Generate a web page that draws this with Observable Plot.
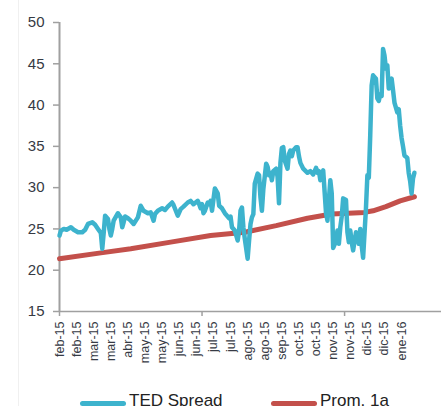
<!DOCTYPE html>
<html>
<head>
<meta charset="utf-8">
<script src="https://cdn.jsdelivr.net/npm/d3@7"></script>
<script src="https://cdn.jsdelivr.net/npm/@observablehq/plot@0.6"></script>
<style>
  html, body { margin: 0; padding: 0; background: #fff; }
  #wrap { position: relative; width: 448px; height: 406px; overflow: hidden; font-family: "Liberation Sans", Arial, sans-serif; }
  #edge { position: absolute; left: 18px; top: 0; width: 1px; height: 406px; background: #f0f0f0; }
  #legend { position: absolute; left: 0; top: 385px; width: 448px; height: 30px; }
  .item { position: absolute; top: 6px; font-size: 17px; color: #222; white-space: nowrap; }
  .sw { position: absolute; top: 16px; height: 5px; border-radius: 3px; }
</style>
</head>
<body>
<div id="wrap">
  <div id="edge"></div>
  <div id="chart"></div>
  <div id="legend"></div>
</div>
<script>
// Business-day index (0 = early Feb 2015) and TED Spread values (bp)
const tedDay = [0,1,3,5,8,10,13,16,18,20,23,25,27,29,30,31,32,34,35,36,37,38,39,41,43,44,45,46,48,50,52,55,57,59,62,64,66,67,69,72,74,76,79,80,83,85,87,90,92,94,97,98,99,100,101,102,104,105,106,107,109,111,112,114,116,119,120,121,123,125,126,127,128,129,130,132,133,134,135,136,137,139,140,141,142,143,145,146,147,148,149,150,152,153,154,155,156,157,158,160,161,162,163,164,166,167,168,169,171,174,176,178,180,181,182,183,185,186,187,188,189,190,191,192,194,195,196,197,198,199,201,202,203,204,205,206,208,209,210,211,212,213,215,216,217,218,219,220,222,223,224,225,226,227,228,229,230,231,233,234,235,237,238,239,240,241,242,244,245,246,247,248,249];
const tedVal = [24.2,24.8,25.0,24.9,25.2,24.9,24.6,24.6,24.9,25.6,25.8,25.5,25.0,24.5,22.6,24.5,26.6,26.2,25.0,24.2,25.0,26.0,26.3,26.9,26.4,25.2,25.8,26.5,26.3,26.0,25.6,26.4,27.8,27.2,26.9,27.0,26.0,26.8,27.2,27.5,27.3,27.7,28.2,27.9,26.6,27.4,27.7,28.2,28.4,28.0,28.4,28.0,27.5,28.0,26.9,27.2,28.2,28.0,28.4,27.2,29.9,29.3,27.8,27.5,26.9,26.3,26.5,25.2,24.8,23.6,24.8,27.2,27.6,25.2,23.8,21.4,23.6,25.6,26.4,26.8,30.5,31.7,31.5,28.8,27.2,29.8,32.9,32.5,31.5,31.8,30.9,32.0,32.3,31.3,28.1,33.0,34.8,34.9,33.3,32.3,34.1,34.5,33.8,34.5,34.9,34.9,33.8,33.0,32.3,31.8,32.0,31.6,32.4,31.8,32.0,30.9,32.1,29.5,26.9,26.0,28.5,30.9,29.3,22.7,23.5,24.8,23.2,25.2,26.5,28.7,28.5,24.6,23.4,24.8,23.4,22.4,24.6,24.2,23.2,25.0,23.0,21.5,27.5,31.5,31.2,36.3,42.4,43.6,43.2,40.8,40.5,41.3,41.1,46.8,46.0,44.4,44.8,42.0,43.2,41.8,40.3,39.1,39.5,37.5,36.0,35.0,33.9,33.6,31.8,30.8,29.3,31.1,31.8];

// One-year average
const promDay = [0,29,50,78,106,130,152,174,191,214,220,229,239,249];
const promVal = [21.4,22.1,22.6,23.4,24.2,24.6,25.4,26.3,26.8,27.0,27.2,27.7,28.4,28.9];

// Category labels (every 12 business days)
const labelText = ["feb-15","feb-15","mar-15","mar-15","abr-15","may-15","may-15","jun-15","jun-15","jul-15","jul-15","ago-15","ago-15","sep-15","oct-15","oct-15","nov-15","nov-15","dic-15","dic-15","ene-16"];
const labelDay = labelText.map((_, i) => i * 12);
const majorTicks = [0, 100, 200];
const yTicks = [15,20,25,30,35,40,45,50];
const xDomain = [0, 268];
const yDomain = [15, 50];

const seriesNames = ["TED Spread", "Prom. 1a"];
const seriesColors = ["#3db3cd", "#c3504b"];

const ted = tedDay.map((d, i) => ({day: d, v: tedVal[i]}));
const prom = promDay.map((d, i) => ({day: d, v: promVal[i]}));

const chart = Plot.plot({
  width: 448,
  height: 385,
  marginTop: 22,
  marginBottom: 74,
  marginLeft: 59,
  marginRight: 7,
  style: {fontFamily: "'Liberation Sans', Arial, sans-serif", color: "#363a44", background: "transparent"},
  x: {domain: xDomain, axis: null},
  y: {domain: yDomain, axis: null},
  marks: [
    Plot.axisY({ticks: yTicks, label: null, tickSize: 6, tickPadding: 9, fontSize: 15, stroke: "#a0a0a0", strokeWidth: 1.5, strokeOpacity: 1}),
    Plot.ruleX([0], {y1: 15, y2: 50, stroke: "#a0a0a0", strokeWidth: 2}),
    Plot.axisX({ticks: majorTicks, label: null, tickSize: 5, tickFormat: () => "", stroke: "#a0a0a0", strokeWidth: 1.5, strokeOpacity: 1}),
    Plot.axisX({ticks: labelDay, label: null, tickSize: 0, tickPadding: 10, tickRotate: -90, fontSize: 12.5,
      tickFormat: d => labelText[labelDay.indexOf(d)]}),
    Plot.ruleY([15], {x1: 0, x2: 268, stroke: "#a0a0a0", strokeWidth: 1.5}),
    Plot.line(prom, {x: "day", y: "v", stroke: seriesColors[1], strokeWidth: 5, strokeLinecap: "round", strokeLinejoin: "round"}),
    Plot.line(ted, {x: "day", y: "v", stroke: seriesColors[0], strokeWidth: 4.5, strokeLinecap: "round", strokeLinejoin: "round"})
  ]
});
document.getElementById("chart").appendChild(chart);

const legend = document.getElementById("legend");
const items = [{sx: 80, tx: 129}, {sx: 271, tx: 320}];
seriesNames.forEach((name, i) => {
  const sw = document.createElement("div");
  sw.className = "sw";
  sw.style.left = items[i].sx + "px";
  sw.style.width = "46px";
  sw.style.background = seriesColors[i];
  legend.appendChild(sw);
  const t = document.createElement("div");
  t.className = "item";
  t.style.left = items[i].tx + "px";
  t.textContent = name;
  legend.appendChild(t);
});
</script>
</body>
</html>
